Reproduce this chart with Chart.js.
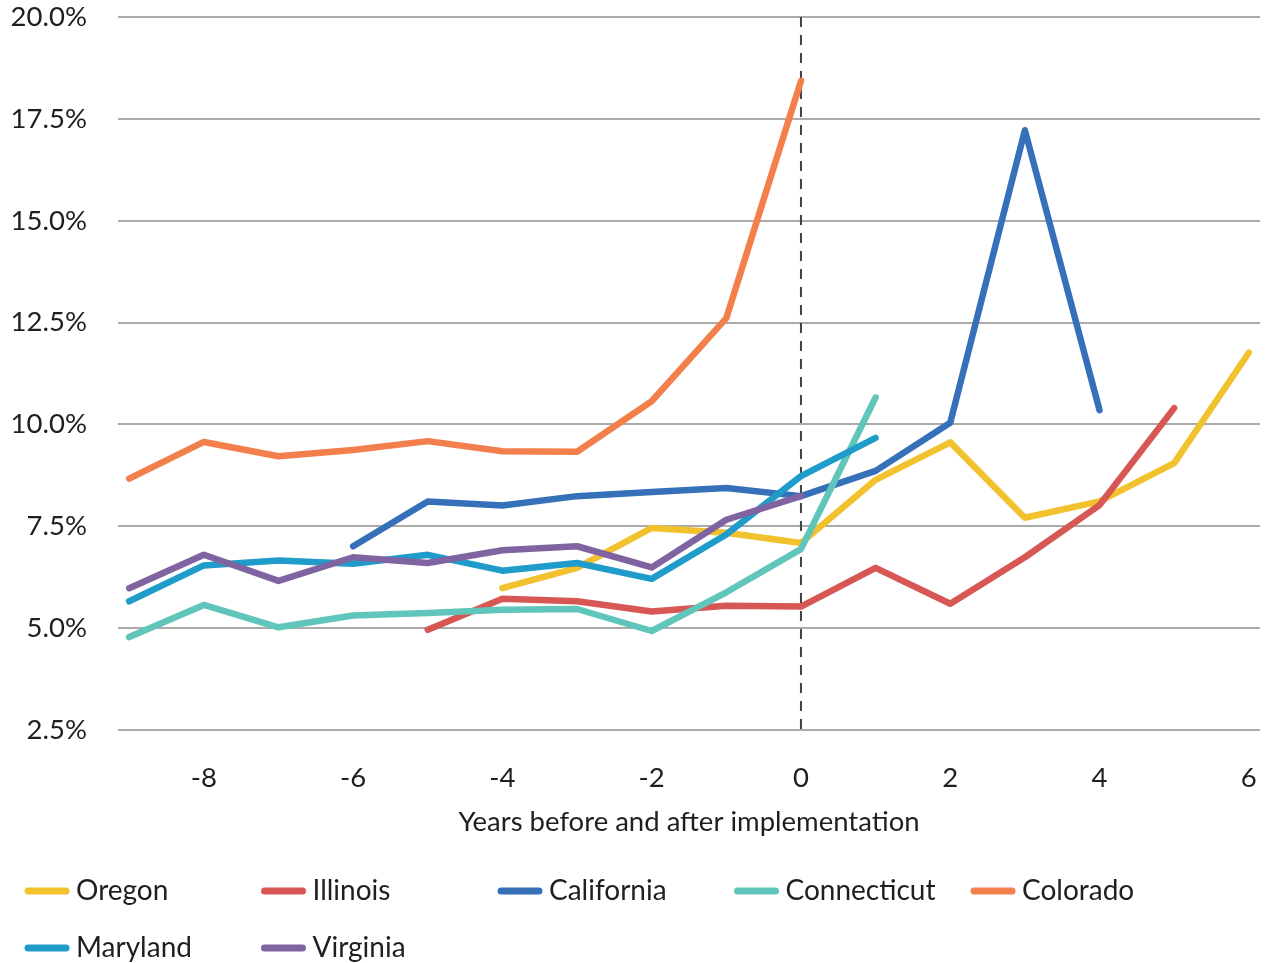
<!DOCTYPE html>
<html>
<head>
<meta charset="utf-8">
<script src="https://cdn.jsdelivr.net/npm/chart.js@4"></script>
<style>
  body { margin: 0; background: #fff; }
  canvas { display: block; }
</style>
</head>
<body>
<canvas id="myChart" width="1265" height="963"></canvas>
<script>
// years relative to implementation
const years = [-9, -8, -7, -6, -5, -4, -3, -2, -1, 0, 1, 2, 3, 4, 5, 6];
const xTicks = [-8, -6, -4, -2, 0, 2, 4, 6];
const yTicks = [2.5, 5, 7.5, 10, 12.5, 15, 17.5, 20];
const implementationYear = 0;

const oregon = [null, null, null, null, null, 5.98, 6.48, 7.46, 7.34, 7.09, 8.64, 9.56, 7.71, 8.11, 9.05, 11.76];
const illinois = [null, null, null, null, 4.96, 5.72, 5.66, 5.41, 5.55, 5.53, 6.48, 5.6, 6.74, 8.02, 10.4, null];
const california = [null, null, null, 7.01, 8.11, 8.01, 8.24, 8.34, 8.44, 8.24, 8.86, 10.04, 17.22, 10.35, null, null];
const connecticut = [4.78, 5.57, 5.02, 5.31, 5.37, 5.45, 5.47, 4.93, 5.88, 6.94, 10.66, null, null, null, null, null];
const colorado = [8.67, 9.57, 9.22, 9.37, 9.59, 9.34, 9.33, 10.57, 12.61, 18.43, null, null, null, null, null, null];
const maryland = [5.66, 6.54, 6.66, 6.58, 6.8, 6.41, 6.6, 6.21, 7.3, 8.73, 9.67, null, null, null, null, null];
const virginia = [5.98, 6.8, 6.16, 6.74, 6.6, 6.91, 7.01, 6.49, 7.66, 8.24, null, null, null, null, null, null];

const seriesNames = ['Oregon', 'Illinois', 'California', 'Connecticut', 'Colorado', 'Maryland', 'Virginia'];
const seriesValues = [oregon, illinois, california, connecticut, colorado, maryland, virginia];
const seriesColors = ['#F2C12E', '#D75755', '#3570B8', '#60C5BA', '#F27F4C', '#1F9CC9', '#8063A1'];

const FONT = 'Lato, "Noto Sans", sans-serif';
const TEXT = '#1f1f1f';

function toPoints(values) {
  const pts = [];
  values.forEach(function (v, i) {
    if (v !== null) pts.push({ x: years[i], y: v });
  });
  return pts;
}

const datasets = seriesNames.map(function (name, i) {
  return {
    label: name,
    data: toPoints(seriesValues[i]),
    borderColor: seriesColors[i],
    backgroundColor: seriesColors[i],
    borderWidth: 6.5,
    borderCapStyle: 'round',
    borderJoinStyle: 'round',
    pointRadius: 0,
    tension: 0,
    order: seriesNames.length - i, // later series on top, like the original
  };
});

// dashed line at implementation year
const implLine = {
  id: 'implLine',
  beforeDatasetsDraw(chart) {
    const x = chart.scales.x.getPixelForValue(implementationYear);
    const { top, bottom } = chart.chartArea;
    const c = chart.ctx;
    c.save();
    c.strokeStyle = '#404040';
    c.lineWidth = 2;
    c.setLineDash([10, 8]);
    c.beginPath();
    c.moveTo(x, top);
    c.lineTo(x, bottom);
    c.stroke();
    c.restore();
  },
};

// legend laid out in fixed columns, left aligned
const fixedLegend = {
  id: 'fixedLegend',
  afterDraw(chart) {
    const c = chart.ctx;
    const colW = 236.5;
    const startX = 25;
    const rows = [891, 948];
    c.save();
    c.font = '28px ' + FONT;
    c.textBaseline = 'middle';
    c.textAlign = 'left';
    seriesNames.forEach(function (name, i) {
      const col = i % 5;
      const row = Math.floor(i / 5);
      const x = startX + col * colW;
      const y = rows[row];
      c.strokeStyle = seriesColors[i];
      c.lineWidth = 7;
      c.lineCap = 'round';
      c.beginPath();
      c.moveTo(x + 3, y);
      c.lineTo(x + 41, y);
      c.stroke();
      c.fillStyle = TEXT;
      c.fillText(name, x + 51, y);
    });
    c.restore();
  },
};

const ctx = document.getElementById('myChart').getContext('2d');
const myChart = new Chart(ctx, {
  type: 'line',
  data: { datasets: datasets },
  plugins: [implLine, fixedLegend],
  options: {
    responsive: false,
    animation: false,
    devicePixelRatio: 1,
    layout: { padding: { top: 17, right: 5, bottom: 123, left: 0 } },
    plugins: {
      legend: { display: false },
      tooltip: { enabled: false },
    },
    scales: {
      x: {
        type: 'linear',
        min: -9.15,
        max: 6.15,
        afterBuildTicks: function (scale) {
          scale.ticks = xTicks.map(function (v) { return { value: v }; });
        },
        afterFit: function (scale) { scale.height = 110; },
        // invisible tick marks give the label offset without eating plot space
        grid: {
          display: true,
          drawOnChartArea: false,
          drawTicks: true,
          tickLength: 32,
          color: 'rgba(0,0,0,0)',
        },
        border: { display: false },
        ticks: {
          padding: 0,
          maxRotation: 0,
          color: TEXT,
          font: { family: FONT, size: 27.5 },
        },
        title: {
          display: true,
          text: 'Years before and after implementation',
          color: TEXT,
          font: { family: FONT, size: 27.5 },
          padding: { top: 0, bottom: 1 },
        },
      },
      y: {
        min: 2.5,
        max: 20,
        afterBuildTicks: function (scale) {
          scale.ticks = yTicks.map(function (v) { return { value: v }; });
        },
        afterFit: function (scale) { scale.width = 118; },
        grid: {
          color: '#ababab',
          lineWidth: 2,
          drawTicks: true,
          tickLength: 31,
          tickColor: 'rgba(0,0,0,0)',
        },
        border: { display: false },
        ticks: {
          padding: 0,
          color: TEXT,
          font: { family: FONT, size: 27.5 },
          callback: function (v) { return v.toFixed(1) + '%'; },
        },
      },
    },
  },
});
</script>
</body>
</html>
